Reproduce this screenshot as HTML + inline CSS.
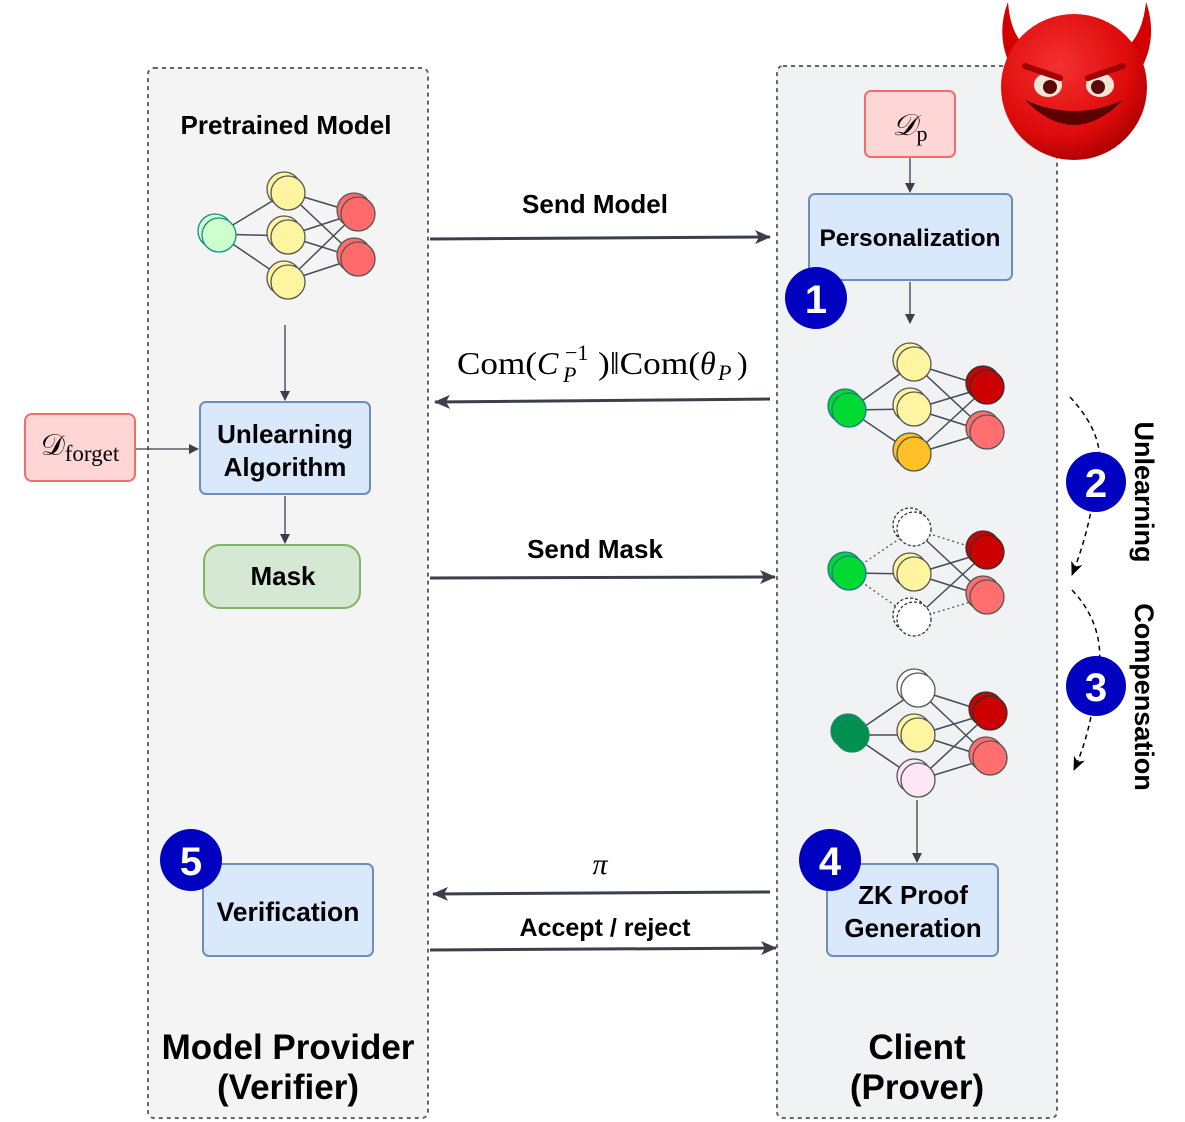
<!DOCTYPE html>
<html><head><meta charset="utf-8"><style>
html,body{margin:0;padding:0;background:#fff;}
svg{display:block;}
text{font-family:"Liberation Sans",sans-serif;font-weight:bold;fill:#000;}
.serif{font-family:"Liberation Serif",serif;font-weight:normal;}
</style></head><body>
<svg width="1185" height="1122" viewBox="0 0 1185 1122" xmlns="http://www.w3.org/2000/svg">
<defs>
<marker id="ah" markerWidth="10" markerHeight="10" refX="9" refY="5" orient="auto" markerUnits="userSpaceOnUse">
<path d="M0,0 L10,5 L0,10 Z" fill="#3a3f4a"/></marker>
<marker id="ah2" markerWidth="16" markerHeight="14" refX="15" refY="7" orient="auto" markerUnits="userSpaceOnUse">
<path d="M0,0 L16,7 L0,14 L4,7 Z" fill="#3a3f4a"/></marker>
<marker id="ah3" markerWidth="14" markerHeight="12" refX="13" refY="6" orient="auto" markerUnits="userSpaceOnUse">
<path d="M0,0 L14,6 L0,12 L4,6 Z" fill="#000"/></marker>
<radialGradient id="dv" cx="0.4" cy="0.35" r="0.7"><stop offset="0" stop-color="#f43030"/><stop offset="0.7" stop-color="#dd0a0a"/><stop offset="1" stop-color="#a80000"/></radialGradient>
</defs>

<rect x="148" y="68" width="280" height="1050" rx="6" fill="#f4f4f4" stroke="#666" stroke-width="2" stroke-dasharray="4,4"/>
<rect x="777" y="66" width="280" height="1052" rx="6" fill="#f1f2f4" stroke="#666" stroke-width="2" stroke-dasharray="4,4"/>

<!-- devil -->
<path d="M1008,2 C995,35 1005,70 1030,88 L1045,58 C1020,50 1010,30 1008,2 Z" fill="#d40000"/>
<path d="M1146,2 C1158,35 1148,70 1124,88 L1108,58 C1133,50 1143,30 1146,2 Z" fill="#d40000"/>
<circle cx="1074" cy="87" r="73" fill="url(#dv)"/>
<ellipse cx="1048" cy="85" rx="14" ry="12" fill="#f3e6d8"/><circle cx="1050" cy="87" r="7" fill="#5a0a0a"/>
<ellipse cx="1100" cy="85" rx="14" ry="12" fill="#f3e6d8"/><circle cx="1098" cy="87" r="7" fill="#5a0a0a"/>
<path d="M1025,66 L1060,78" stroke="#a00000" stroke-width="6" stroke-linecap="round"/>
<path d="M1123,66 L1088,78" stroke="#a00000" stroke-width="6" stroke-linecap="round"/>
<path d="M1025,100 Q1074,150 1123,100 Q1074,122 1025,100 Z" fill="#5a0000"/>

<!-- boxes -->
<rect x="865" y="91" width="90" height="66" rx="6" fill="#ffd6d6" stroke="#f26d6d" stroke-width="2"/>
<text x="910" y="135" class="serif" font-size="30" text-anchor="middle" font-style="italic">𝒟<tspan font-size="22" font-style="normal" dy="6">p</tspan></text>
<rect x="809" y="194" width="203" height="86" rx="6" fill="#dae8fc" stroke="#6c8ebf" stroke-width="2"/>
<text x="910" y="246" font-size="24.5" text-anchor="middle">Personalization</text>

<rect x="25" y="414" width="110" height="67" rx="7" fill="#ffd6d6" stroke="#f26d6d" stroke-width="2"/>
<text x="80" y="455" class="serif" font-size="30" text-anchor="middle">𝒟<tspan font-size="23" dy="6">forget</tspan></text>

<rect x="200" y="402" width="170" height="92" rx="6" fill="#dae8fc" stroke="#6c8ebf" stroke-width="2"/>
<text x="285" y="443" font-size="26" text-anchor="middle">Unlearning</text>
<text x="285" y="476" font-size="26" text-anchor="middle">Algorithm</text>
<rect x="204" y="545" width="156" height="63" rx="16" fill="#d5e8d4" stroke="#82b366" stroke-width="2"/>
<text x="283" y="585" font-size="26" text-anchor="middle">Mask</text>

<rect x="203" y="864" width="170" height="92" rx="6" fill="#dae8fc" stroke="#6c8ebf" stroke-width="2"/>
<text x="288" y="921" font-size="26.5" text-anchor="middle">Verification</text>
<rect x="827" y="864" width="171" height="92" rx="6" fill="#dae8fc" stroke="#6c8ebf" stroke-width="2"/>
<text x="913" y="904" font-size="26" text-anchor="middle">ZK Proof</text>
<text x="913" y="937" font-size="26" text-anchor="middle">Generation</text>

<!-- labels -->
<text x="286" y="134" font-size="26" text-anchor="middle">Pretrained Model</text>
<text x="595" y="213" font-size="26" text-anchor="middle">Send Model</text>
<g class="serif" font-size="32">
<text x="457" y="374" class="serif" textLength="80" lengthAdjust="spacingAndGlyphs">Com(</text>
<text x="537" y="374" class="serif" font-style="italic">C</text>
<text x="565" y="360" class="serif" font-size="22">−1</text>
<text x="563" y="382" class="serif" font-size="22" font-style="italic">P</text>
<text x="598" y="374" class="serif" textLength="102" lengthAdjust="spacingAndGlyphs">)‖Com(</text>
<text x="700" y="374" class="serif" font-style="italic">θ</text>
<text x="718" y="380" class="serif" font-size="22" font-style="italic">P</text>
<text x="737" y="374" class="serif">)</text>
</g>
<text x="595" y="558" font-size="26" text-anchor="middle">Send Mask</text>
<text x="600" y="874" class="serif" font-size="30" font-style="italic" text-anchor="middle">π</text>
<text x="605" y="936" font-size="25" text-anchor="middle">Accept / reject</text>
<text x="288" y="1059" font-size="35" text-anchor="middle">Model Provider</text>
<text x="288" y="1099" font-size="35" text-anchor="middle">(Verifier)</text>
<text x="917" y="1059" font-size="35" text-anchor="middle">Client</text>
<text x="917" y="1099" font-size="35" text-anchor="middle">(Prover)</text>
<text transform="translate(1135,492) rotate(90)" font-size="27" text-anchor="middle">Unlearning</text>
<text transform="translate(1135,697) rotate(90)" font-size="27" text-anchor="middle">Compensation</text>

<g stroke="#3a3f4a" stroke-width="3" fill="none">
<line x1="430" y1="239" x2="770" y2="237" marker-end="url(#ah2)"/>
<line x1="770" y1="399" x2="435" y2="402" marker-end="url(#ah2)"/>
<line x1="430" y1="578" x2="775" y2="577" marker-end="url(#ah2)"/>
<line x1="770" y1="892" x2="433" y2="894" marker-end="url(#ah2)"/>
<line x1="430" y1="950" x2="776" y2="948" marker-end="url(#ah2)"/>
</g>
<g stroke="#3a3f4a" stroke-width="1.3" fill="none">
<line x1="285" y1="325" x2="285" y2="400" marker-end="url(#ah)"/>
<line x1="285" y1="496" x2="285" y2="543" marker-end="url(#ah)"/>
<line x1="136" y1="449" x2="198" y2="449" marker-end="url(#ah)"/>
<line x1="910" y1="158" x2="910" y2="192" marker-end="url(#ah)"/>
<line x1="910" y1="282" x2="910" y2="323" marker-end="url(#ah)"/>
<line x1="917" y1="800" x2="917" y2="862" marker-end="url(#ah)"/>
</g>
<g stroke="#000" stroke-width="1.5" fill="none" stroke-dasharray="5,4">
<path d="M1070,397 Q1110,440 1096,480 Q1090,530 1072,575" marker-end="url(#ah3)"/>
<path d="M1072,590 Q1110,630 1096,686 Q1090,735 1074,770" marker-end="url(#ah3)"/>
</g>

<g stroke="#444c56" stroke-width="1.5">
<line x1="218" y1="234" x2="287" y2="192"/><line x1="218" y1="234" x2="287" y2="236"/><line x1="218" y1="234" x2="287" y2="281"/>
<line x1="287" y1="192" x2="357" y2="213"/><line x1="287" y1="192" x2="357" y2="258"/>
<line x1="287" y1="236" x2="357" y2="213"/><line x1="287" y1="236" x2="357" y2="258"/>
<line x1="287" y1="281" x2="357" y2="213"/><line x1="287" y1="281" x2="357" y2="258"/>
<line x1="849" y1="410" x2="914" y2="364"/><line x1="849" y1="410" x2="914" y2="409"/><line x1="849" y1="410" x2="914" y2="454"/>
<line x1="914" y1="364" x2="987" y2="387"/><line x1="914" y1="364" x2="987" y2="432"/>
<line x1="914" y1="409" x2="987" y2="387"/><line x1="914" y1="409" x2="987" y2="432"/>
<line x1="914" y1="454" x2="987" y2="387"/><line x1="914" y1="454" x2="987" y2="432"/>
<line x1="849" y1="573" x2="914" y2="574"/>
<line x1="914" y1="529" x2="987" y2="597"/><line x1="914" y1="619" x2="987" y2="552"/>
<line x1="914" y1="574" x2="987" y2="552"/><line x1="914" y1="574" x2="987" y2="597"/>
<line x1="852" y1="735" x2="918" y2="690"/><line x1="852" y1="735" x2="918" y2="735"/><line x1="852" y1="735" x2="918" y2="780"/>
<line x1="918" y1="690" x2="990" y2="713"/><line x1="918" y1="690" x2="990" y2="758"/>
<line x1="918" y1="735" x2="990" y2="713"/><line x1="918" y1="735" x2="990" y2="758"/>
<line x1="918" y1="780" x2="990" y2="713"/><line x1="918" y1="780" x2="990" y2="758"/>
</g>
<g stroke="#555" stroke-width="1.3" stroke-dasharray="2,3">
<line x1="849" y1="573" x2="914" y2="529"/><line x1="849" y1="573" x2="914" y2="619"/>
<line x1="914" y1="529" x2="987" y2="552"/><line x1="914" y1="619" x2="987" y2="597"/>
</g>
<g stroke-width="1.3">
<g stroke="#1a8a8a"><circle cx="215" cy="231" r="17" fill="#ccffcc"/><circle cx="219" cy="235" r="17" fill="#ccffcc"/></g>
<g stroke="#555" fill="#fff5a0">
<circle cx="284" cy="189" r="17"/><circle cx="288" cy="193" r="17"/>
<circle cx="284" cy="233" r="17"/><circle cx="288" cy="237" r="17"/>
<circle cx="284" cy="278" r="17"/><circle cx="288" cy="282" r="17"/></g>
<g stroke="#555" fill="#ff6b6b">
<circle cx="354" cy="210" r="17"/><circle cx="358" cy="214" r="17"/>
<circle cx="354" cy="255" r="17"/><circle cx="358" cy="259" r="17"/></g>
<g stroke="#1a7a8a" fill="#00d930"><circle cx="845" cy="406" r="17"/><circle cx="849" cy="410" r="17"/></g>
<g stroke="#555" fill="#fff5a0"><circle cx="910" cy="360" r="17"/><circle cx="914" cy="364" r="17"/><circle cx="910" cy="405" r="17"/><circle cx="914" cy="409" r="17"/></g>
<g stroke="#555" fill="#ffc125"><circle cx="910" cy="450" r="17"/><circle cx="914" cy="454" r="17"/></g>
<g stroke="#333" fill="#cc0000"><circle cx="983" cy="383" r="17"/><circle cx="987" cy="387" r="17"/></g>
<g stroke="#555" fill="#ff6f6f"><circle cx="983" cy="428" r="17"/><circle cx="987" cy="432" r="17"/></g>
<g stroke="#1a7a8a" fill="#00d930"><circle cx="845" cy="569" r="17"/><circle cx="849" cy="573" r="17"/></g>
<g stroke="#333" fill="#fff" stroke-dasharray="3,2"><circle cx="910" cy="525" r="17"/><circle cx="914" cy="529" r="17"/><circle cx="910" cy="615" r="17"/><circle cx="914" cy="619" r="17"/></g>
<g stroke="#555" fill="#fff5a0"><circle cx="910" cy="570" r="17"/><circle cx="914" cy="574" r="17"/></g>
<g stroke="#333" fill="#cc0000"><circle cx="983" cy="548" r="17"/><circle cx="987" cy="552" r="17"/></g>
<g stroke="#555" fill="#ff6f6f"><circle cx="983" cy="593" r="17"/><circle cx="987" cy="597" r="17"/></g>
<g stroke="#1a8a6a" fill="#009150"><circle cx="848" cy="731" r="17"/><circle cx="852" cy="735" r="17"/></g>
<g stroke="#555" fill="#fff"><circle cx="914" cy="686" r="17"/><circle cx="918" cy="690" r="17"/></g>
<g stroke="#555" fill="#fff5a0"><circle cx="914" cy="731" r="17"/><circle cx="918" cy="735" r="17"/></g>
<g stroke="#555" fill="#ffe6f5"><circle cx="914" cy="776" r="17"/><circle cx="918" cy="780" r="17"/></g>
<g stroke="#333" fill="#cc0000"><circle cx="986" cy="709" r="17"/><circle cx="990" cy="713" r="17"/></g>
<g stroke="#555" fill="#ff6f6f"><circle cx="986" cy="754" r="17"/><circle cx="990" cy="758" r="17"/></g>
</g>

<g fill="#0000c0">
<circle cx="816" cy="298" r="31"/><circle cx="1096" cy="482" r="30"/><circle cx="1096" cy="686" r="30"/>
<circle cx="830" cy="860" r="31"/><circle cx="191" cy="860" r="31"/></g>
<g font-size="40" text-anchor="middle">
<text x="816" y="313" style="fill:#fff">1</text><text x="1096" y="497" style="fill:#fff">2</text><text x="1096" y="701" style="fill:#fff">3</text>
<text x="830" y="875" style="fill:#fff">4</text><text x="191" y="875" style="fill:#fff">5</text></g>
</svg>
</body></html>
